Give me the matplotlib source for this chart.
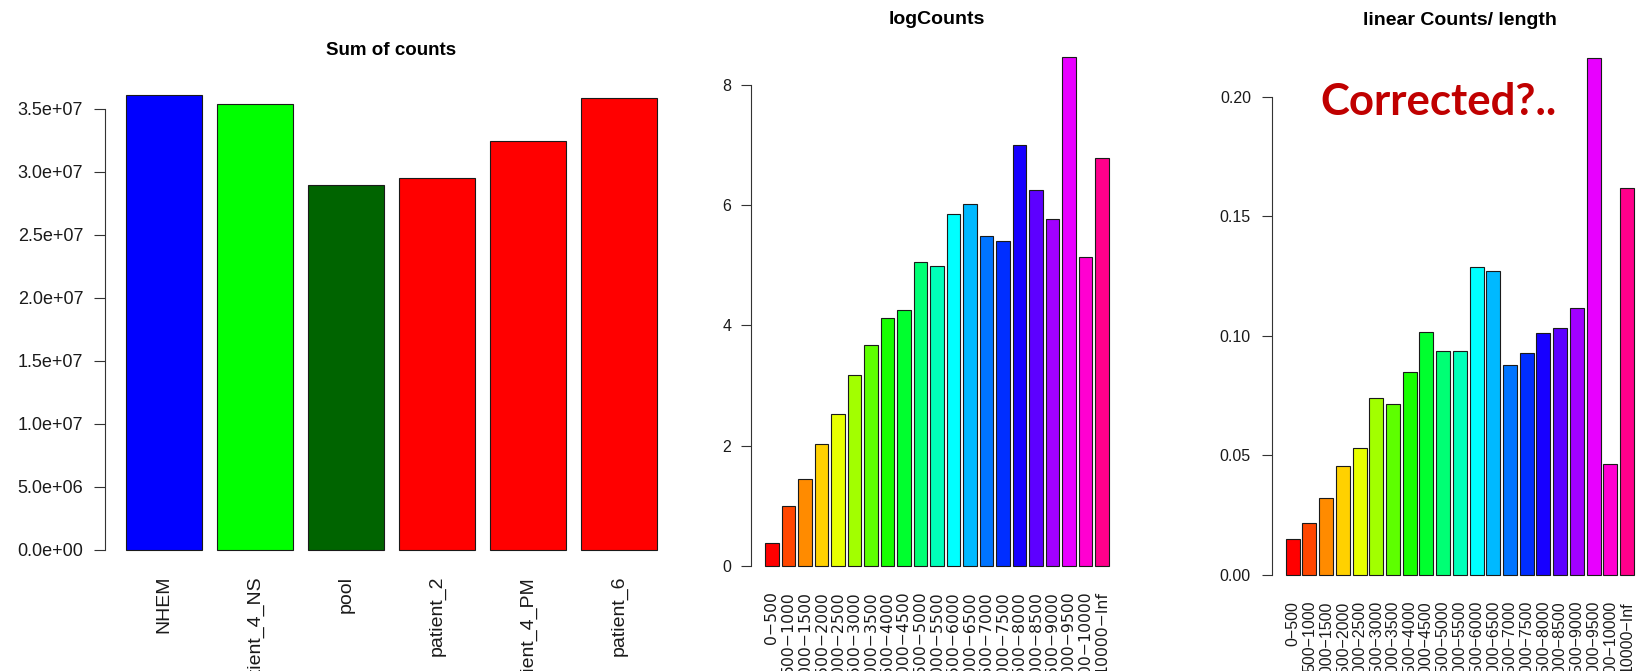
import colorsys
import numpy as np
import matplotlib
matplotlib.use("Agg")
import matplotlib.pyplot as plt

plt.rcParams['font.family'] = ['Liberation Sans', 'DejaVu Sans']

# left panel: total counts per sample
samples = ["NHEM", "patient_4_NS", "pool", "patient_2", "patient_4_PM", "patient_6"]
sum_counts = [3.608e7, 3.533e7, 2.896e7, 2.947e7, 3.245e7, 3.581e7]
sample_colors = ["#0000FF", "#00FF00", "#006400", "#FF0000", "#FF0000", "#FF0000"]

# length bins shared by the two right panels
bins = ["0\u2212500", "500\u22121000", "1000\u22121500", "1500\u22122000", "2000\u22122500",
        "2500\u22123000", "3000\u22123500", "3500\u22124000", "4000\u22124500", "4500\u22125000",
        "5000\u22125500", "5500\u22126000", "6000\u22126500", "6500\u22127000", "7000\u22127500",
        "7500\u22128000", "8000\u22128500", "8500\u22129000", "9000\u22129500", "9500\u221210000",
        "10000\u2212Inf"]
log_counts = [0.37, 0.99, 1.45, 2.03, 2.53, 3.18, 3.67, 4.13, 4.26, 5.05, 4.98,
              5.85, 6.02, 5.48, 5.40, 7.01, 6.26, 5.77, 8.46, 5.13, 6.78]
lin_counts_len = [0.0150, 0.0215, 0.0320, 0.0453, 0.0530, 0.0738, 0.0714, 0.0847,
                  0.1017, 0.0935, 0.0935, 0.1287, 0.1269, 0.0879, 0.0929, 0.1010,
                  0.1031, 0.1114, 0.2160, 0.0464, 0.1620]

# R rainbow(22), first 21 colours (cyan falls on 5500-6000)
rainbow = [colorsys.hsv_to_rgb(i / (len(bins) + 1), 1, 1) for i in range(len(bins))]

W, H = 1639, 671


def px_axes(fig, left, top, right, bottom):
    return fig.add_axes([left / W, 1 - bottom / H, (right - left) / W, (bottom - top) / H])


def r_barplot(ax, heights, colors, labels, yticks, fmt, fs, ticklen, xpad, xfs, xfamily=None):
    """barplot() look-alike: width 1, space 0.2, 4% axis extension"""
    n = len(heights)
    x = 0.7 + 1.2 * np.arange(n)
    ax.bar(x, heights, width=1.0, color=colors, edgecolor='#1a1a1a', linewidth=0.8)
    lo, hi = 0.2, 1.2 * n
    ax.set_xlim(lo - 0.04 * (hi - lo), hi + 0.04 * (hi - lo))
    top = max(heights)
    ax.set_ylim(-0.04 * top, 1.04 * top)
    for s in ['top', 'right', 'bottom']:
        ax.spines[s].set_visible(False)
    ax.spines['left'].set_bounds(yticks[0], yticks[-1])
    ax.spines['left'].set_color('#333333')
    ax.set_yticks(yticks)
    ax.set_yticklabels([fmt % v for v in yticks])
    ax.set_xticks(x)
    if xfamily:
        ax.set_xticklabels(labels, rotation=90, family=xfamily)
    else:
        ax.set_xticklabels(labels, rotation=90)
    ax.tick_params(axis='x', length=0, pad=xpad, labelsize=xfs, colors='#1a1a1a')
    ax.tick_params(axis='y', length=ticklen, pad=7.5, labelsize=fs, colors='#333333',
                   labelcolor='#1a1a1a')


fig = plt.figure(figsize=(W / 100, H / 100), dpi=100)

ax1 = px_axes(fig, 104.7, 76.8, 677.8, 568.2)
r_barplot(ax1, sum_counts, sample_colors, samples,
          [i * 5e6 for i in range(8)], "%.1e", 13, 8, 5.5, 14)
fig.text(391 / W, 1 - 55 / H, "Sum of counts", ha='center', va='baseline',
         fontsize=13.5, fontweight='bold')

ax2 = px_axes(fig, 751.3, 37.1, 1122.5, 586.0)
r_barplot(ax2, log_counts, rainbow, bins, [0, 2, 4, 6, 8], "%d", 11.5, 7, 3.8, 11.3,
          ['DejaVu Sans'])
fig.text(937 / W, 1 - 24 / H, "logCounts", ha='center', va='baseline',
         fontsize=14, fontweight='bold')

ax3 = px_axes(fig, 1271.8, 37.8, 1647.9, 595.4)
r_barplot(ax3, lin_counts_len, rainbow, bins, [0.0, 0.05, 0.10, 0.15, 0.20], "%.2f", 11.5, 7.5,
          4.0, 11.5)
fig.text(1459.8 / W, 1 - 25 / H, "linear Counts/ length", ha='center', va='baseline',
         fontsize=14, fontweight='bold')

fig.text(1320 / W, 1 - 115 / H, "Corrected?..", ha='left', va='baseline',
         fontsize=31.5, fontweight='bold', color='#C00000', family=['Lato', 'DejaVu Sans'])

fig.savefig("out.png", dpi=100)
